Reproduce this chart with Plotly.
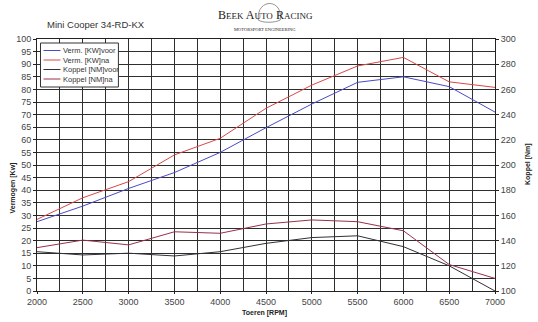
import plotly.graph_objects as go

rpm = [2000, 2500, 3000, 3500, 4000, 4500, 5000, 5500, 6000, 6500, 7000]
verm_voor = [27.5, 33.7, 40.7, 47.0, 55.0, 64.8, 74.2, 82.8, 85.0, 81.1, 71.0]
verm_na = [28.4, 37.0, 43.4, 54.0, 60.6, 72.5, 81.7, 89.3, 92.7, 83.0, 80.8]
koppel_voor = [131.2, 128.6, 130.0, 127.8, 131.2, 137.8, 142.4, 143.8, 135.2, 120.0, 100.0]
koppel_na = [134.4, 140.4, 136.6, 147.0, 145.8, 153.2, 156.4, 155.0, 147.8, 121.0, 110.0]

series_names = ["Verm. [KW]voor", "Verm. [KW]na", "Koppel [NM]voor", "Koppel [NM]na"]
series_colors = ["#4a4ac8", "#d84848", "#303038", "#98304a"]

left_ticks = list(range(0, 101, 5))
right_ticks = list(range(100, 301, 20))
x_ticks = list(range(2000, 7001, 500))

FONT = "Liberation Sans, Arial, sans-serif"
W, H = 538, 322
ML, MR, MT, MB = 36.5, 43, 39, 31
PW, PH = W - ML - MR, H - MT - MB


def px(x):
    return (x - ML) / PW


def py(y):
    return (H - MB - y) / PH


fig = go.Figure()
fig.add_trace(go.Scatter(x=rpm, y=verm_voor, name=series_names[0], mode="lines",
                         line=dict(color=series_colors[0], width=1)))
fig.add_trace(go.Scatter(x=rpm, y=verm_na, name=series_names[1], mode="lines",
                         line=dict(color=series_colors[1], width=1)))
fig.add_trace(go.Scatter(x=rpm, y=koppel_voor, name=series_names[2], mode="lines",
                         line=dict(color=series_colors[2], width=1), yaxis="y2"))
fig.add_trace(go.Scatter(x=rpm, y=koppel_na, name=series_names[3], mode="lines",
                         line=dict(color=series_colors[3], width=1), yaxis="y2"))

fig.update_layout(
    width=W, height=H,
    margin=dict(l=ML, r=MR, t=MT, b=MB),
    paper_bgcolor="white", plot_bgcolor="white",
    font=dict(family=FONT, size=9, color="#333"),
    showlegend=False,
    xaxis=dict(range=[2000, 7000], tickvals=x_ticks, showgrid=True,
               gridcolor="#2e2e2e", gridwidth=1,
               minor=dict(dtick=250, showgrid=True, gridcolor="#2e2e2e", gridwidth=1),
               showline=True, linecolor="#222", linewidth=1, mirror=True,
               ticks="outside", ticklen=2, tickcolor="#222",
               tickfont=dict(size=9, color="#444"), zeroline=False),
    yaxis=dict(range=[0, 100], tickvals=left_ticks, showgrid=True,
               gridcolor="#2e2e2e", gridwidth=1,
               showline=True, linecolor="#222", linewidth=1, mirror=True,
               ticks="outside", ticklen=3, tickcolor="#222",
               tickfont=dict(size=9, color="#444"), zeroline=False),
    yaxis2=dict(range=[100, 300], tickvals=right_ticks, overlaying="y", side="right",
                showgrid=False, showline=False, ticks="outside", ticklen=3,
                tickcolor="#222", tickfont=dict(size=9, color="#444"), zeroline=False),
)

anns = [
    dict(text="Mini Cooper 34-RD-KX", x=45, y=25, font=dict(size=9.5, color="#333", family=FONT),
         xanchor="left"),
    dict(text="B<span style='font-size:9px'>EEK</span> A<span style='font-size:9px'>UTO</span> R<span style='font-size:9px'>ACING</span>",
         x=265, y=15, font=dict(size=12, color="#222", family="Liberation Serif, serif"),
         xanchor="center"),
    dict(text="MOTORSPORT ENGINEERING", x=265, y=30, font=dict(size=4.5, color="#222", family="Liberation Serif, serif"),
         xanchor="center"),
    dict(text="<b>Vermogen [Kw]</b>", x=12, y=188, textangle=-90, font=dict(size=7, color="#222", family=FONT),
         xanchor="center"),
    dict(text="<b>Koppel [Nm]</b>", x=528, y=164, textangle=-90, font=dict(size=7, color="#222", family=FONT),
         xanchor="center"),
    dict(text="<b>Toeren [RPM]</b>", x=264, y=313, font=dict(size=7, color="#222", family=FONT),
         xanchor="center"),
]

# custom compact legend
legend_rows = [50.5, 60, 69.5, 79]
for name, color, ry in zip(series_names, series_colors, legend_rows):
    anns.append(dict(text=name, x=61, y=ry, font=dict(size=7.5, color="#333", family=FONT), xanchor="left"))

annotations = []
for a in anns:
    a = dict(a)
    x0, y0 = a.pop("x"), a.pop("y")
    annotations.append(dict(a, x=px(x0), y=py(y0), xref="paper", yref="paper",
                            yanchor="middle", showarrow=False))
fig.update_layout(annotations=annotations)

shapes = [dict(type="rect", xref="paper", yref="paper", x0=px(40), x1=px(118), y0=py(43), y1=py(87),
               fillcolor="white", line=dict(color="#333", width=1), layer="above")]
for color, ry in zip(series_colors, legend_rows):
    shapes.append(dict(type="line", xref="paper", yref="paper", x0=px(43), x1=px(60), y0=py(ry), y1=py(ry),
                       line=dict(color=color, width=1), layer="above"))
# logo oval outline
shapes.append(dict(type="path", xref="paper", yref="paper",
                   path="M {0} {1} C {2} {3}, {4} {3}, {5} {1} C {6} {7}, {8} {7}, {0} {1} Z".format(
                       px(258), py(20), px(256), py(-2), px(283), px(280), px(275), py(23), px(262)),
                   line=dict(color="#777", width=0.8)))
fig.update_layout(shapes=shapes)

fig.write_html("out.html", config={"displayModeBar": False},
               post_script="document.body.style.margin='0px';document.body.style.padding='0px';")
